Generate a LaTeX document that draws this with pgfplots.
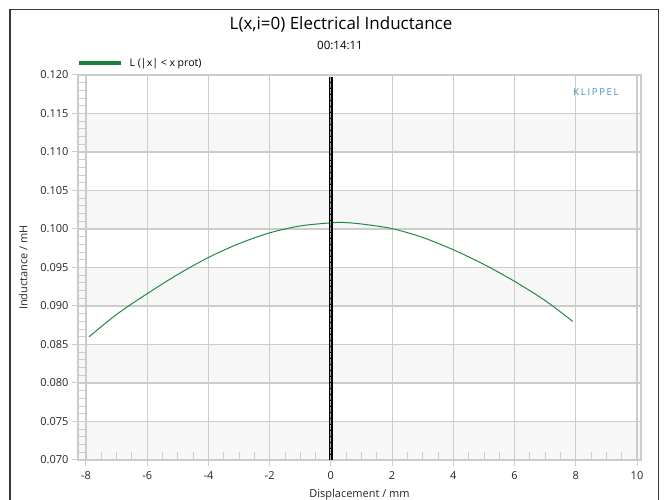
\documentclass[border=0pt]{standalone}
\usepackage{fontspec}
\setmainfont{Open Sans}
\usepackage{pgfplots}
\pgfplotsset{compat=1.18}
\definecolor{gridc}{HTML}{CCCCCC}
\definecolor{bandc}{HTML}{F7F7F7}
\definecolor{curvec}{HTML}{1F8A45}
\definecolor{legc}{HTML}{1A7F3C}
\definecolor{klip}{HTML}{3F8DBB}
\definecolor{framec}{HTML}{3A3A3A}
\begin{document}
\begin{tikzpicture}
\draw[framec, line width=1.5pt] (10pt,-9.5pt) rectangle (658.5pt,-520pt);
\node[font=\fontsize{17}{20}\selectfont] at (341pt,-24pt) {L(x,i=0) Electrical Inductance};
\node[font=\fontsize{11.5}{13}\selectfont] at (340pt,-45pt) {00:14:11};
\draw[legc, line width=4pt] (79pt,-63.5pt) -- (121pt,-63.5pt);
\node[anchor=west, font=\fontsize{10.5}{12}\selectfont, inner sep=0pt] at (129.5pt,-63.5pt) {L (|x| < x prot)};
\begin{axis}[
  set layers,
  at={(78pt,-75pt)}, anchor=north west,
  scale only axis, width=563pt, height=385pt,
  xmin=-8.26, xmax=10.13, ymin=0.07, ymax=0.12,
  xtick={-8,-6,-4,-2,0,2,4,6,8,10},
  ytick={0.070,0.075,0.080,0.085,0.090,0.095,0.100,0.105,0.110,0.115,0.120},
  scaled y ticks=false,
  yticklabel style={/pgf/number format/.cd, fixed, fixed zerofill, precision=3},
  xticklabel style={yshift=-2pt},
  /pgf/number format/assume math mode=true,
  grid=major, major grid style={gridc, line width=1.2pt},
  axis line style={gridc, line width=1.2pt},
  tick style={gridc, line width=1pt}, tick align=outside, major tick length=6pt,
  xtick pos=lower, ytick pos=left,
  ticklabel style={font=\fontsize{11}{13}\selectfont, text=black!85},
  xlabel={Displacement / mm}, ylabel={Inductance / mH},
  label style={font=\fontsize{11}{13}\selectfont, text=black!85},
  xlabel style={yshift=-3pt},
  ylabel style={yshift=6pt},
]
\begin{pgfonlayer}{axis background}
\fill[bandc] (-8.26,0.070) rectangle (10.13,0.075);
\fill[bandc] (-8.26,0.080) rectangle (10.13,0.085);
\fill[bandc] (-8.26,0.090) rectangle (10.13,0.095);
\fill[bandc] (-8.26,0.100) rectangle (10.13,0.105);
\fill[bandc] (-8.26,0.110) rectangle (10.13,0.115);
\end{pgfonlayer}
\addplot[curvec, line width=1pt, smooth] coordinates {
(-7.9,0.0860) (-7,0.0889) (-6,0.0916) (-5,0.0941) (-4,0.0963) (-3,0.0981)
(-2,0.0995) (-1,0.1004) (0,0.1008) (0.4,0.10085) (1,0.10065) (2,0.10005)
(3,0.0989) (4,0.0973) (5,0.0954) (6,0.0932) (7,0.0907) (7.9,0.0880)};
\addplot[black, line width=3.6pt] coordinates {(0,0.070) (0,0.1198)};
\addplot[gray!70, line width=1.2pt, dash pattern=on 0.6pt off 0.6pt] coordinates {(0,0.070) (0,0.1198)};
\end{axis}
\begin{axis}[
  at={(78pt,-75pt)}, anchor=north west,
  scale only axis, width=563pt, height=385pt,
  xmin=-8.26, xmax=10.13, ymin=0.07, ymax=0.12,
  xtick={-7.5,-7,-6.5,-5.5,-5,-4.5,-3.5,-3,-2.5,-1.5,-1,-0.5,0.5,1,1.5,2.5,3,3.5,4.5,5,5.5,6.5,7,7.5,8.5,9,9.5},
  ytick={0.070,0.071,0.072,0.073,0.074,0.075,0.076,0.077,0.078,0.079,0.080,0.081,0.082,0.083,0.084,0.085,0.086,0.087,0.088,0.089,0.090,0.091,0.092,0.093,0.094,0.095,0.096,0.097,0.098,0.099,0.100,0.101,0.102,0.103,0.104,0.105,0.106,0.107,0.108,0.109,0.110,0.111,0.112,0.113,0.114,0.115,0.116,0.117,0.118,0.119,0.120},
  xticklabels={}, yticklabels={},
  tick align=inside, xtick pos=lower, ytick pos=left,
  tick style={gridc, line width=0.9pt},
  major tick length=7.5pt,
  axis line style={draw=none},
]
\addplot[draw=none] coordinates {(0,0.09) (1,0.095)};
\end{axis}
\node[font=\fontsize{9.5}{11}\selectfont\addfontfeature{LetterSpace=18}, text=klip] at (596pt,-92pt) {KLIPPEL};
\pgfresetboundingbox
\path[use as bounding box] (0pt,0pt) rectangle (667pt,-500pt);
\end{tikzpicture}
\end{document}
